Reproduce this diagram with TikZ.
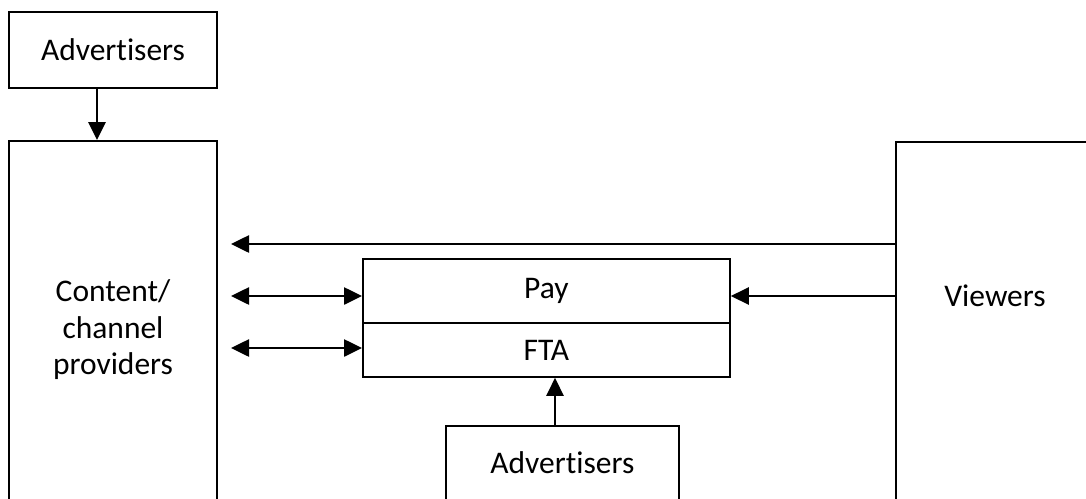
\documentclass[tikz,border=0pt]{standalone}
\usepackage{fontspec}
\setmainfont[Ligatures=NoCommon]{Carlito}
\usetikzlibrary{positioning,arrows.meta}

\begin{document}
\begin{tikzpicture}[
    x=1pt, y=-1pt,
    >={Triangle[length=18pt,width=17pt]},
    box/.style={draw, line width=1.8pt, inner sep=0pt, align=center},
    flow/.style={line width=2.6pt},
    every node/.style={font=\fontsize{31.5}{36.5}\selectfont}
]
\clip (0,0) rectangle (1086,498);

\node[box, minimum width=208pt, minimum height=76pt] (advtop) at (113,50) {Advertisers};
\node[box, minimum width=208pt, minimum height=378pt] (content) at (113,330) {Content/\\channel\\providers};
\node[box, minimum width=230pt, minimum height=378pt, anchor=north west] (viewers) at (895,141) {};
\node (viewtxt) at (995,296) {Viewers};
\node[box, minimum width=367pt, minimum height=64pt, anchor=north west] (pay) at (362,258) {Pay};
\node[box, minimum width=367pt, minimum height=54pt, anchor=north west, yshift=1.8pt] (fta) at (pay.south west) {FTA};
\node[box, minimum width=233pt, minimum height=74pt, anchor=north west] (advbot) at (445,425) {Advertisers};

\coordinate (c1) at (231,244);
\coordinate (c2) at (231,296);
\coordinate (c3) at (231,348);
\coordinate (a1) at (97,0);
\coordinate (a2) at (555,0);

\draw[flow,->] (a1 |- advtop.south) -- (a1 |- content.north);
\draw[flow,->] (viewers.west |- c1) -- (c1);
\draw[flow,<->] (c2) -- (pay.west |- c2);
\draw[flow,<->] (c3) -- (fta.west |- c3);
\draw[flow,->] (viewers.west |- c2) -- (pay.east |- c2);
\draw[flow,->] (a2 |- advbot.north) -- (a2 |- fta.south);

\end{tikzpicture}
\end{document}
